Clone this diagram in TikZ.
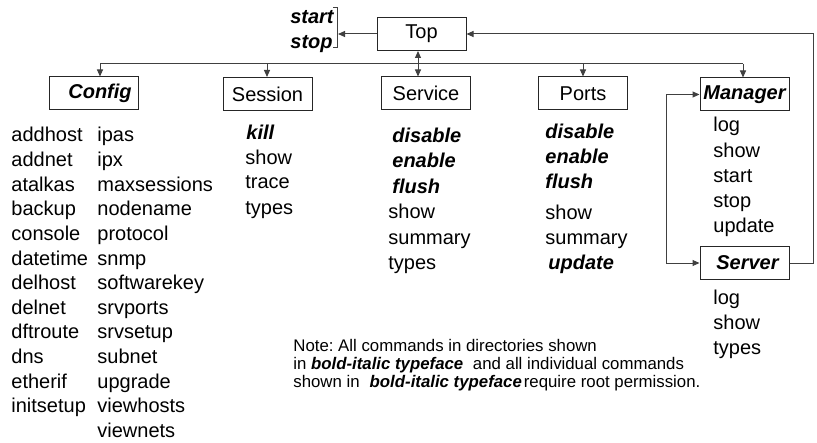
\documentclass[tikz,border=0pt]{standalone}
\usepackage{fontspec}
\setmainfont{Liberation Sans}
\usetikzlibrary{arrows.meta}
\frenchspacing
\begin{document}
\begin{tikzpicture}[x=0.5pt,y=-0.5pt,
  font=\fontsize{10}{12}\selectfont,
  box/.style={draw=black!85,line width=0.5pt,minimum width=44.5pt,minimum height=16.5pt,inner sep=0pt},
  item/.style={anchor=base west,inner sep=0pt},
  ritem/.style={anchor=base east,inner sep=0pt},
  bi/.style={font=\fontsize{10}{12}\selectfont\bfseries\itshape},
  wire/.style={draw=black!75,line width=0.5pt},
  arr/.style={wire,-{Triangle[length=3.5pt,width=3pt]}},
  darr/.style={wire,{Triangle[length=3.5pt,width=3pt]}-{Triangle[length=3.5pt,width=3pt]}}]
\useasboundingbox (0,0) rectangle (817,443);

% directory boxes
\node[box] (top) at (421.5,34) {Top};
\node[box,bi] (config) at (94,93.5) {\hspace{6pt}Config};
\node[box] (session) at (267.5,94) {Session};
\node[box] (service) at (426,93.5) {Service};
\node[box] (ports) at (583,93.5) {Ports};
\node[box,bi] (manager) at (744.5,94.5) {Manager};
\node[box,bi] (server) at (744.5,263) {\hspace{3pt}Server};

% start / stop beside Top
\node[ritem,bi] (tstart) at (334,24) {start};
\node[ritem,bi] (tstop) at (333,49) {stop};
\draw[wire] (333,8) -- (337.5,8) -- (337.5,48) -- (333,48);
\coordinate (bracket) at (338,34);
\draw[arr] (top.west) -- (bracket);

% distribution bus
\coordinate (busL) at (100,64);
\coordinate (busR) at (743,64);
\coordinate (busS) at (267,64);
\coordinate (busP) at (583,64);
\draw[wire] (busL) -- (busR);
\draw[arr] (busL) -- (config.north -| busL);
\draw[arr] (busS) -- (session.north -| busS);
\draw[arr] (busP) -- (ports.north -| busP);
\draw[arr] (busR) -- (manager.north -| busR);
\coordinate (svcx) at (418,0);
\draw[darr] (top.south -| svcx) -- (service.north -| svcx);

% Manager / Server loops
\coordinate (loopL) at (666,0);
\coordinate (loopR) at (813,0);
\draw[darr] (manager.west) -- (manager.west -| loopL) -- (server.west -| loopL) -- (server.west);
\draw[arr] (server.east) -- (server.east -| loopR) -- (top.east -| loopR) -- (top.east);

% Config commands
\foreach \w [count=\i from 0] in {addhost,addnet,atalkas,backup,console,datetime,delhost,delnet,dftroute,dns,etherif,initsetup}
  \node[item] (cfga\i) at (11,142+24.6*\i) {\w};
\foreach \w [count=\i from 0] in {ipas,ipx,maxsessions,nodename,protocol,snmp,softwarekey,srvports,srvsetup,subnet,upgrade,viewhosts,viewnets}
  \node[item] (cfgb\i) at (97,142+24.6*\i) {\w};

% Session commands
\node[item,bi] (sesa) at (246,140) {kill};
\node[item] (sesb) at (245,164) {show};
\node[item] (sesc) at (245,189) {trace};
\node[item] (sesd) at (245,214) {types};

% Service commands
\node[item,bi] (svca) at (392,143) {disable};
\node[item,bi] (svcb) at (392,168) {enable};
\node[item,bi] (svcc) at (392,193) {flush};
\node[item] (svcd) at (388,218) {show};
\node[item] (svce) at (388,244) {summary};
\node[item] (svcf) at (388,269) {types};

% Ports commands
\node[item,bi] (prta) at (545,139) {disable};
\node[item,bi] (prtb) at (545,163) {enable};
\node[item,bi] (prtc) at (545,188) {flush};
\node[item] (prtd) at (545,219) {show};
\node[item] (prte) at (545,244) {summary};
\node[item,bi] (prtf) at (548,269) {update};

% Manager commands
\foreach \w [count=\i from 0] in {log,show,start,stop,update}
  \node[item] (mgr\i) at (713,132+25.2*\i) {\w};

% Server commands
\foreach \w [count=\i from 0] in {log,show,types}
  \node[item] (srv\i) at (713,304+25*\i) {\w};

% note
\node[anchor=north west,inner sep=0pt,align=left,font=\fontsize{8.4}{8.9}\selectfont] (note) at (293,339)
  {Note: All commands in directories shown\\
   in \textbf{\textit{bold-italic typeface}}\hspace{2.5pt} and all individual commands\\
   shown in\hspace{5pt}\textbf{\textit{bold-italic typeface}}\hspace{1pt}require root permission.};
\end{tikzpicture}
\end{document}
